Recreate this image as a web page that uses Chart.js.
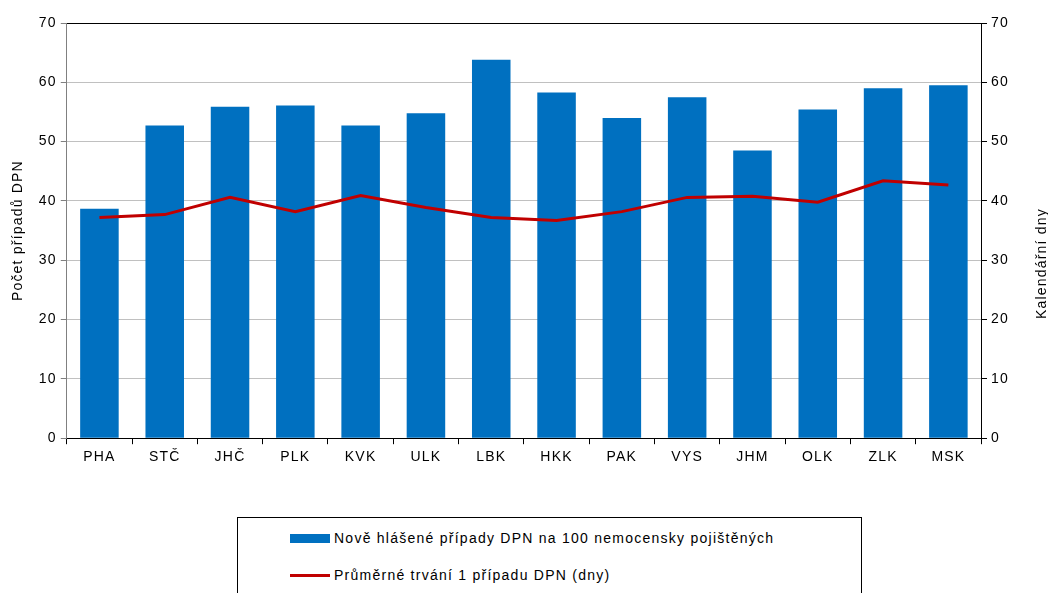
<!DOCTYPE html>
<html><head><meta charset="utf-8">
<script src="https://cdn.jsdelivr.net/npm/chart.js@4"></script>
<style>
body{margin:0;background:#fff;}
#wrap{position:relative;width:1048px;height:593px;overflow:hidden;font-family:"Liberation Sans",Arial,sans-serif;background:#fff;}
#c{position:absolute;left:0;top:0;}
#legend{position:absolute;left:237px;top:517px;width:625px;height:100px;border:1px solid #000;box-sizing:border-box;font-size:14px;letter-spacing:1.25px;color:#000;}
.item{position:absolute;left:52px;height:16px;line-height:16px;white-space:nowrap;}
.sw{display:inline-block;width:40px;vertical-align:middle;margin-right:4px;}
</style></head><body>
<div id="wrap">
<canvas id="c" width="1048" height="471"></canvas>
<div id="legend"></div>
</div>
<script>
const categories = ['PHA','STČ','JHČ','PLK','KVK','ULK','LBK','HKK','PAK','VYS','JHM','OLK','ZLK','MSK'];
const casesPer100 = [38.7, 52.7, 55.9, 56.1, 52.7, 54.8, 63.8, 58.3, 54.0, 57.5, 48.5, 55.4, 59.0, 59.5];
const avgDuration = [37.2, 37.7, 40.6, 38.2, 40.9, 38.9, 37.2, 36.7, 38.2, 40.6, 40.8, 39.8, 43.4, 42.7];
const seriesLabels = ['Nově hlášené případy DPN na 100 nemocensky pojištěných', 'Průměrné trvání 1 případu DPN (dny)'];
const axisTitles = ['Počet případů DPN', 'Kalendářní dny'];

const barColor = '#0070C0';
const lineColor = '#C00000';
const fontFamily = '"Liberation Sans", Arial, sans-serif';
const font = {family: fontFamily, size: 14};
const spacing = '1.2px';

const spacingPlugin = {
  id: 'spacing',
  beforeUpdate(chart) { chart.ctx.letterSpacing = spacing; },
  beforeLayout(chart) { chart.ctx.letterSpacing = spacing; },
  beforeDraw(chart) { chart.ctx.letterSpacing = spacing; }
};

// right axis title reads bottom-to-top, like the left one
const rightTitlePlugin = {
  id: 'rightTitle',
  afterDraw(chart) {
    const ctx = chart.ctx;
    const area = chart.chartArea;
    ctx.save();
    ctx.letterSpacing = spacing;
    ctx.translate(chart.width - 6, (area.top + area.bottom) / 2 + 33);
    ctx.rotate(-Math.PI / 2);
    ctx.font = '14px ' + fontFamily;
    ctx.fillStyle = '#000';
    ctx.textAlign = 'center';
    ctx.textBaseline = 'middle';
    ctx.fillText(axisTitles[1], 0, 0);
    ctx.restore();
  }
};

const chart = new Chart(document.getElementById('c'), {
  data: {
    labels: categories,
    datasets: [
      {type:'line', label: seriesLabels[1], data: avgDuration, yAxisID:'y2', borderColor: lineColor, backgroundColor: lineColor, borderWidth:3, pointRadius:0, tension:0, order:0},
      {type:'bar', label: seriesLabels[0], data: casesPer100, yAxisID:'y', backgroundColor: barColor, borderWidth:0, categoryPercentage:1, barPercentage:0.59, order:1}
    ]
  },
  options: {
    responsive:false, animation:false,
    layout:{padding:{left:10, right:35, top:23, bottom:0}},
    plugins:{legend:{display:false}, tooltip:{enabled:false}},
    scales:{
      x:{
        grid:{offset:true, drawOnChartArea:false, drawTicks:true, tickLength:6, color:'#000'},
        border:{color:'#000'},
        ticks:{color:'#000', font:font, padding:5}
      },
      y:{
        position:'left', min:0, max:70,
        ticks:{stepSize:10, color:'#000', font:font, padding:4},
        grid:{color: ctx => ctx.tick && ctx.tick.value === 70 ? '#000' : '#c0c0c0', tickColor:'#808080', tickLength:6},
        border:{color:'#808080'},
        title:{display:true, text: axisTitles[0], color:'#000', font:font, padding:{top:0,bottom:8}}
      },
      y2:{
        position:'right', min:0, max:70,
        ticks:{stepSize:10, color:'#000', font:font, padding:4},
        grid:{drawOnChartArea:false, tickColor:'#000', tickLength:6},
        border:{color:'#000'},
        title:{display:false}
      }
    }
  },
  plugins:[spacingPlugin, rightTitlePlugin]
});

// legend
const lg = document.getElementById('legend');
const ds = chart.data.datasets;
const items = [
  {label: ds[1].label, color: ds[1].backgroundColor, h: 9, top: 11},
  {label: ds[0].label, color: ds[0].borderColor, h: 3, top: 48}
];
items.forEach(it => {
  const d = document.createElement('div');
  d.className = 'item';
  d.style.top = it.top + 'px';
  const s = document.createElement('span');
  s.className = 'sw';
  s.style.height = it.h + 'px';
  s.style.background = it.color;
  d.appendChild(s);
  const t = document.createElement('span');
  t.textContent = it.label;
  t.style.verticalAlign = 'middle';
  d.appendChild(t);
  lg.appendChild(d);
});
</script>
</body></html>
